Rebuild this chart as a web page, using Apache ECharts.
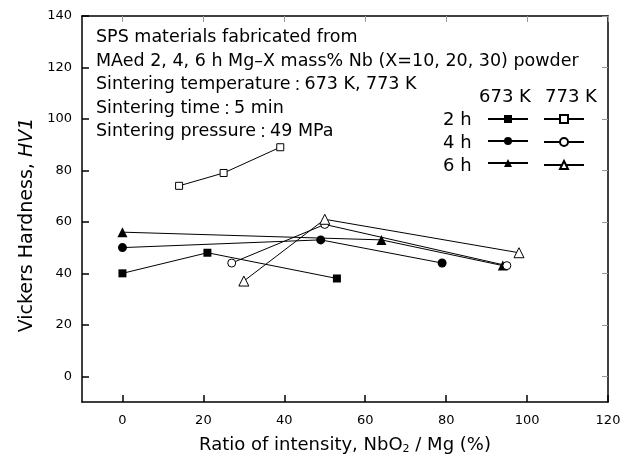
<!DOCTYPE html>
<html>
<head>
<meta charset="utf-8">
<script src="https://cdn.jsdelivr.net/npm/echarts@6/dist/echarts.min.js"></script>
<style>
  html, body { margin: 0; padding: 0; background: #fff; }
  #chart { width: 633px; height: 461px; }
</style>
</head>
<body>
<div id="chart"></div>
<script>
// Ratio of intensity NbO2/Mg (%) and Vickers hardness HV1
const ratio673_2h = [0, 21, 53]
const hv673_2h = [40, 48, 38]
const ratio773_2h = [14, 25, 39]
const hv773_2h = [74, 79, 89]
const ratio673_4h = [0, 49, 79]
const hv673_4h = [50, 53, 44]
const ratio773_4h = [27, 50, 95]
const hv773_4h = [44, 59, 43]
const ratio673_6h = [0, 64, 94]
const hv673_6h = [56, 53, 43]
const ratio773_6h = [30, 50, 98]
const hv773_6h = [37, 61, 48]

const xTicks = [0, 20, 40, 60, 80, 100, 120]
const yTicks = [0, 20, 40, 60, 80, 100, 120, 140]

const noteLines = [
  'SPS materials fabricated from',
  'MAed 2, 4, 6 h Mg\u2013X mass% Nb (X=10, 20, 30) powder',
  'Sintering temperature\uff1a673 K, 773 K',
  'Sintering time\uff1a5 min',
  'Sintering pressure\uff1a49 MPa'
]
const legendHeads = ['673 K', '773 K']
const legendRows = ['2 h', '4 h', '6 h']

const font = 'DejaVu Sans'

function pairs(xs, ys) {
  return xs.map((x, i) => [x, ys[i]])
}

function makeSeries(name, xs, ys, symbol, size, open) {
  return {
    name: name,
    type: 'line',
    data: pairs(xs, ys),
    symbol: symbol,
    symbolSize: size,
    showAllSymbol: true,
    animation: false,
    lineStyle: { color: '#000', width: 1 },
    itemStyle: open
      ? { color: '#fff', borderColor: '#000', borderWidth: 1 }
      : { color: '#000', borderColor: '#000', borderWidth: 0 },
    z: open ? 3 : 2
  }
}

const series = [
  makeSeries('2 h 673 K', ratio673_2h, hv673_2h, 'rect', 8, false),
  makeSeries('4 h 673 K', ratio673_4h, hv673_4h, 'circle', 9, false),
  makeSeries('6 h 673 K', ratio673_6h, hv673_6h, 'triangle', 10, false),
  makeSeries('2 h 773 K', ratio773_2h, hv773_2h, 'rect', 7, true),
  makeSeries('4 h 773 K', ratio773_4h, hv773_4h, 'circle', 8, true),
  makeSeries('6 h 773 K', ratio773_6h, hv773_6h, 'triangle', 10, true)
]

function legendColumn(names, left) {
  return {
    data: names,
    orient: 'vertical',
    left: left,
    top: 114,
    itemWidth: 40,
    itemHeight: 10,
    itemGap: 13,
    padding: 0,
    selectedMode: false,
    formatter: () => '',
    textStyle: { fontSize: 1 }
  }
}

const axisCommon = {
  type: 'value',
  splitLine: { show: false },
  axisLine: { show: true, onZero: false, lineStyle: { color: '#000', width: 1.5 } }
}

// the full-width colon is drawn smaller so it takes the narrow width it has in the figure
const noteText = noteLines.map(s => s.replace('\uff1a', '{c|\uff1a}')).join('\n')

const chart = echarts.init(document.getElementById('chart'))
chart.setOption({
  textStyle: { fontFamily: font },
  grid: { left: 82, right: 25, top: 16, bottom: 59 },
  xAxis: [{
    ...axisCommon,
    min: -10,
    max: 120,
    position: 'bottom',
    axisTick: { show: true, inside: true, length: 7, customValues: xTicks, lineStyle: { color: '#000', width: 1.5 } },
    axisLabel: { customValues: xTicks, color: '#000', fontSize: 13, margin: 12, fontFamily: font },
    name: '{a|Ratio of intensity, NbO}{s|2}{a| / Mg (%)}',
    nameLocation: 'middle',
    nameGap: 31,
    nameTextStyle: {
      rich: {
        a: { fontSize: 18, color: '#000', fontFamily: font, lineHeight: 24 },
        s: { fontSize: 11, color: '#000', fontFamily: font, lineHeight: 24, padding: [9, 0, 0, 0] }
      }
    }
  }, {
    ...axisCommon,
    min: -10,
    max: 120,
    position: 'top',
    axisTick: { show: true, inside: true, length: 6, customValues: xTicks, lineStyle: { color: '#999', width: 1 } },
    axisLabel: { show: false }
  }],
  yAxis: [{
    ...axisCommon,
    min: -10,
    max: 140,
    position: 'left',
    axisTick: { show: true, inside: true, length: 7, customValues: yTicks, lineStyle: { color: '#000', width: 1.5 } },
    axisLabel: { customValues: yTicks, color: '#000', fontSize: 13, margin: 10, fontFamily: font },
    name: '{a|Vickers Hardness, }{i|HV1}',
    nameLocation: 'middle',
    nameGap: 35,
    nameTextStyle: {
      padding: [0, 32, 0, 0],
      rich: {
        a: { fontSize: 19, color: '#000', fontFamily: font },
        i: { fontSize: 19, color: '#000', fontFamily: font, fontStyle: 'italic' }
      }
    }
  }, {
    ...axisCommon,
    min: -10,
    max: 140,
    position: 'right',
    axisTick: { show: true, inside: true, length: 6, customValues: yTicks, lineStyle: { color: '#999', width: 1 } },
    axisLabel: { show: false }
  }],
  legend: [
    legendColumn(['2 h 673 K', '4 h 673 K', '6 h 673 K'], 487),
    legendColumn(['2 h 773 K', '4 h 773 K', '6 h 773 K'], 543)
  ],
  graphic: [
    {
      type: 'text',
      left: 96,
      top: 26,
      style: {
        text: noteText,
        font: '17.5px "DejaVu Sans"',
        lineHeight: 23.5,
        fill: '#000',
        rich: {
          c: { font: '14px "Noto Sans CJK JP"', lineHeight: 23.5, fill: '#000' }
        }
      }
    },
    {
      type: 'text', left: 479, top: 88,
      style: { text: legendHeads[0], font: '18px "DejaVu Sans"', fill: '#000' }
    },
    {
      type: 'text', left: 545, top: 88,
      style: { text: legendHeads[1], font: '18px "DejaVu Sans"', fill: '#000' }
    },
    ...legendRows.map((t, i) => ({
      type: 'text', left: 443, top: 111 + i * 23,
      style: { text: t, font: '18px "DejaVu Sans"', fill: '#000' }
    }))
  ],
  series: series
})
</script>
</body>
</html>
